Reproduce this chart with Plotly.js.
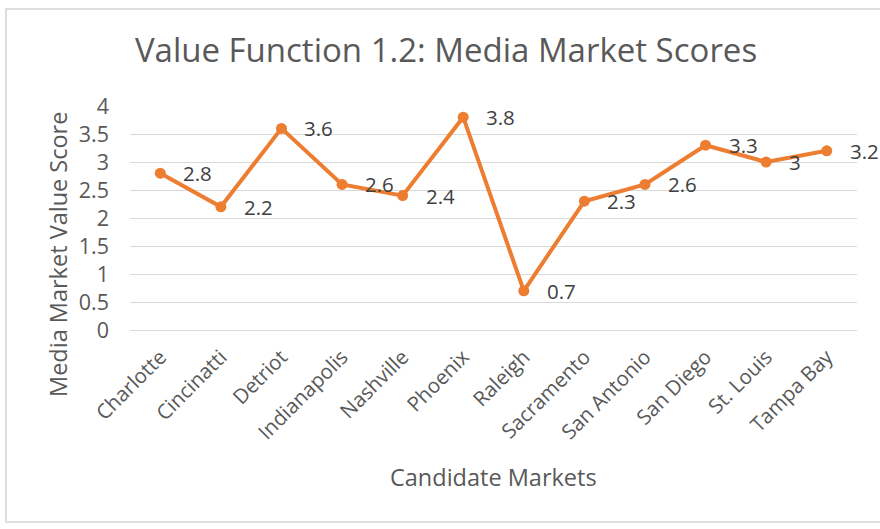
<!DOCTYPE html>
<html>
<head>
<meta charset="utf-8">
<script src="https://cdn.plot.ly/plotly-3.0.1.min.js"></script>
<style>
html,body{margin:0;padding:0;background:#fff;}
#wrap{position:relative;width:880px;height:529px;overflow:hidden;}
#chart{position:absolute;left:0;top:0;width:880px;height:529px;}
#frame{position:absolute;left:5px;top:8px;width:880px;height:515px;border:2px solid #dedede;pointer-events:none;box-sizing:border-box;}
</style>
</head>
<body>
<div id="wrap"><div id="chart"></div><div id="frame"></div></div>
<script>
const markets = ["Charlotte","Cincinatti","Detriot","Indianapolis","Nashville","Phoenix","Raleigh","Sacramento","San Antonio","San Diego","St. Louis","Tampa Bay"];
const scores = [2.8, 2.2, 3.6, 2.6, 2.4, 3.8, 0.7, 2.3, 2.6, 3.3, 3, 3.2];
const yTicks = [0, 0.5, 1, 1.5, 2, 2.5, 3, 3.5, 4];
const yTickText = ["0", "0.5", "1", "1.5", "2", "2.5", "3", "3.5", "4"];

const FONT = "Open Sans, sans-serif";
const ORANGE = "#ED7D31";
const TXT = "#595959";

const trace = {
  x: markets, y: scores, type: "scatter", mode: "lines+markers",
  line: {color: ORANGE, width: 4},
  marker: {color: ORANGE, size: 11},
  hoverinfo: "skip"
};

const labelAnnotations = markets.map((m, i) => ({
  x: m, y: scores[i], xref: "x", yref: "y",
  text: String(scores[i]), showarrow: false,
  xanchor: "left", yanchor: "middle", xshift: 21,
  font: {family: FONT, size: 20.5, color: "#404040"}
}));

const layout = {
  width: 880, height: 529,
  margin: {l: 130, r: 23, t: 106, b: 199},
  paper_bgcolor: "#fff", plot_bgcolor: "#fff",
  showlegend: false,
  title: {
    text: "Value Function 1.2: Media Market Scores",
    x: 446 / 880, xref: "container", xanchor: "center",
    y: 1 - 50/529, yref: "container", yanchor: "middle",
    font: {family: FONT, size: 33, color: TXT}
  },
  xaxis: {
    type: "category", range: [-0.5, 11.5],
    showgrid: false, zeroline: false, showline: false,
    ticks: "", tickangle: -45, ticklabelstandoff: 10,
    tickfont: {family: FONT, size: 20.5, color: TXT},
    fixedrange: true
  },
  yaxis: {
    range: [0, 4], tickvals: yTicks, ticktext: yTickText,
    showgrid: true, gridcolor: "#d9d9d9", gridwidth: 1,
    zeroline: true, zerolinecolor: "#d9d9d9", zerolinewidth: 1,
    showline: false, ticks: "", ticklabelstandoff: 20,
    tickfont: {family: FONT, size: 21.5, color: TXT},
    fixedrange: true
  },
  annotations: labelAnnotations.concat([
    {text: "Media Market Value Score", xref: "paper", yref: "paper",
     x: (58 - 130) / 727, y: (330 - 255) / 224, xanchor: "center", yanchor: "middle",
     textangle: -90, showarrow: false,
     font: {family: FONT, size: 23.5, color: TXT}},
    {text: "Candidate Markets", xref: "paper", yref: "paper",
     x: (493.5 - 130) / 727, y: (330 - 477) / 224, xanchor: "center", yanchor: "middle",
     showarrow: false,
     font: {family: FONT, size: 23.5, color: TXT}}
  ])
};

Plotly.newPlot("chart", [trace], layout, {displayModeBar: false, staticPlot: true});
</script>
</body>
</html>
